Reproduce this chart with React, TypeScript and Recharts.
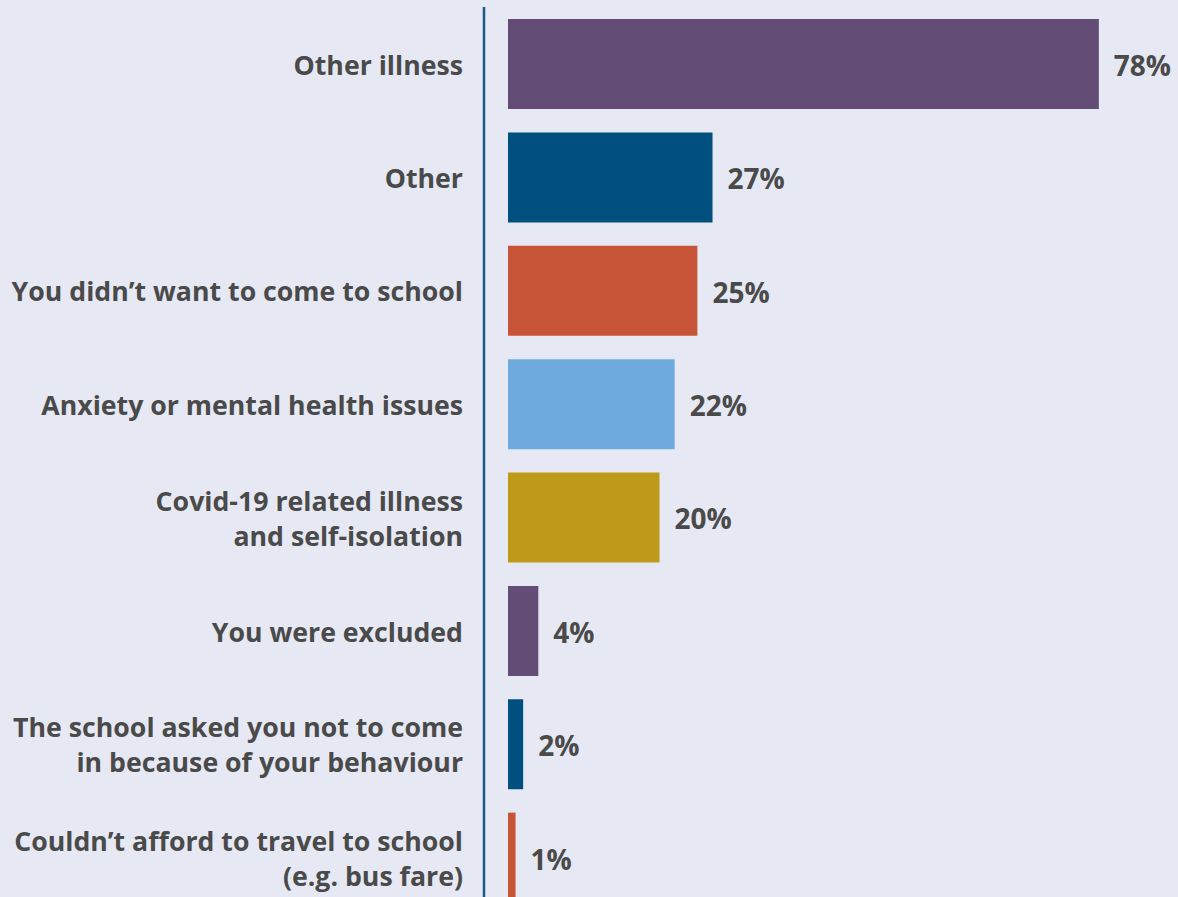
import React from 'react';
import { BarChart, Bar, XAxis, YAxis, Cell, LabelList } from 'recharts';

const categories = [
  'Other illness',
  'Other',
  'You didn’t want to come to school',
  'Anxiety or mental health issues',
  'Covid-19 related illness\nand self-isolation',
  'You were excluded',
  'The school asked you not to come\nin because of your behaviour',
  'Couldn’t afford to travel to school\n(e.g. bus fare)',
];
const values = [78, 27, 25, 22, 20, 4, 2, 1];
const barColors = ['#634D77', '#00507F', '#C75436', '#6EAADD', '#BD9A18', '#634D77', '#00507F', '#C75436'];

const data = categories.map((label, i) => ({ label, value: values[i] }));

const FONT = '"Open Sans", Lato, sans-serif';
const TEXT = '#4A4A4A';

function LabelTick({ x, y, payload }: any) {
  const lines = String(payload.value).split('\n');
  const lh = 35;
  return (
    <text x={x} y={y} textAnchor="end" fill={TEXT} fontFamily={FONT} fontWeight={700} fontSize={26.7}>
      {lines.map((ln, i) => (
        <tspan key={i} x={x} dy={i === 0 ? -((lines.length - 1) / 2) * lh + 11 : lh}>
          {ln}
        </tspan>
      ))}
    </text>
  );
}

export default function App() {
  return (
    <div style={{ position: 'fixed', inset: 0, background: '#E6E9F3', overflow: 'hidden' }}>
      <BarChart
        layout="vertical"
        width={1178}
        height={914}
        data={data}
        margin={{ top: 7, right: 64, bottom: 0, left: 0 }}
      >
        <XAxis type="number" domain={[0, 80]} hide padding={{ left: 24 }} />
        <YAxis
          type="category"
          dataKey="label"
          width={484}
          axisLine={{ stroke: '#1D5A8A', strokeWidth: 2.5 }}
          tickLine={false}
          tickSize={0}
          tickMargin={21}
          tick={<LabelTick />}
          interval={0}
        />
        <Bar dataKey="value" barSize={90} isAnimationActive={false}>
          {data.map((d, i) => (
            <Cell key={d.label} fill={barColors[i]} />
          ))}
          <LabelList
            dataKey="value"
            position="right"
            offset={15}
            formatter={(v: any) => `${v}%`}
            fill={TEXT}
            fontFamily={FONT}
            fontWeight={700}
            fontSize={28}
            dy={2}
          />
        </Bar>
      </BarChart>
    </div>
  );
}
